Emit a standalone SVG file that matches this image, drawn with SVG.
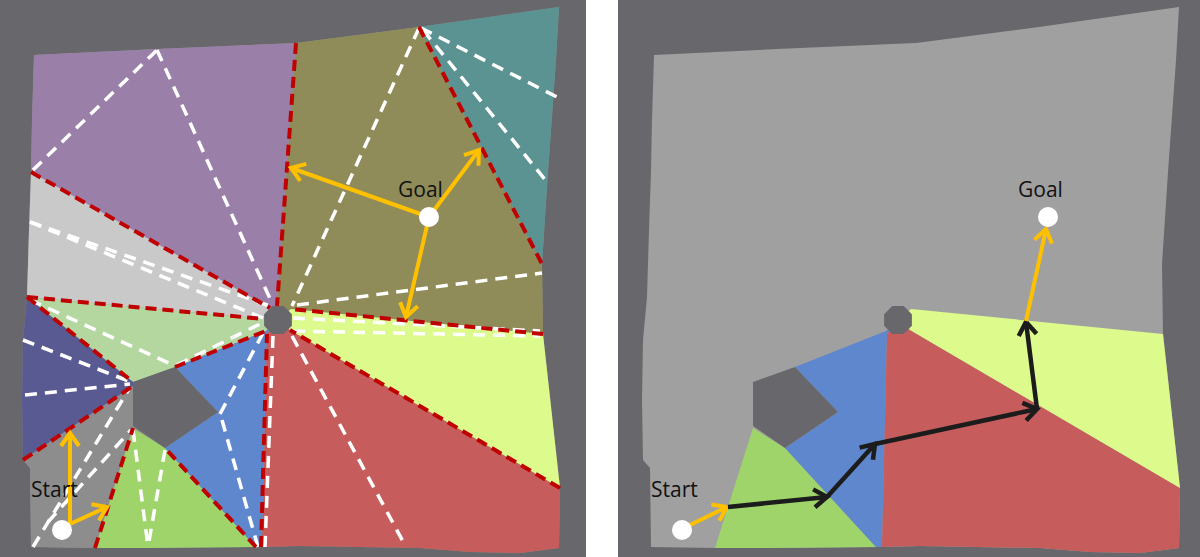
<svg xmlns="http://www.w3.org/2000/svg" xmlns:xlink="http://www.w3.org/1999/xlink" width="1200" height="557" viewBox="0 0 1200 557">
<style>
.bg{fill:#68686c}
.obs{fill:#68686c}
.free{fill:#a0a0a0}
.purple{fill:#9a80a8}.olive{fill:#8f8c5a}.teal{fill:#5b9393}.lgray{fill:#c9c9c9}
.pgreen{fill:#b4d7a0}.indigo{fill:#5a5a93}.sgray{fill:#8d8d8d}.green{fill:#9fd46b}
.blue{fill:#5f87cd}.red{fill:#c65c5c}.lime{fill:#dcfb8c}
.rd{stroke:#c00000;stroke-width:4;stroke-dasharray:11 6;fill:none}
.wd{stroke:#ffffff;stroke-width:3.5;stroke-dasharray:12 8;fill:none}
.or{stroke:#ffc000;stroke-width:4;fill:none;marker-end:url(#ao)}
.bk{stroke:#1c1c1c;stroke-width:4.5;fill:none;marker-end:url(#ab)}
.pt{fill:#ffffff}
.lbl{font-family:"Open Sans","Liberation Sans",sans-serif;font-size:21px;fill:#111111}
</style>
<defs>
<marker id="ao" markerUnits="userSpaceOnUse" markerWidth="24" markerHeight="24" viewBox="0 0 24 24" refX="19" refY="12" orient="auto">
<path d="M6,3 L19,12 L6,21" fill="none" stroke="#ffc000" stroke-width="4" stroke-linejoin="miter"/>
</marker>
<marker id="ab" markerUnits="userSpaceOnUse" markerWidth="24" markerHeight="24" viewBox="0 0 24 24" refX="19" refY="12" orient="auto">
<path d="M6,3 L19,12 L6,21" fill="none" stroke="#1c1c1c" stroke-width="4.5"/>
</marker>
<polygon id="freeArea" points="34,55 157,49 296,43 419,27 559,7 556,60 548,172 542,264 543,334 560,488 559,548 520,553 470,552 420,548 300,546 262,547 150,548 95,548 31,547 30,468 23,460 22,400 23,340 27,297 29,230 31,172 32,120"/>
<polygon id="cGreen" class="green" points="133,428 165,448 256,547 150,548 95,548"/>
<polygon id="cBlue" class="blue" points="175,367 266,331 278,320 267,334 262,547 256,547 165,448 218,412"/>
<polygon id="cRed" class="red" points="267,334 278,320 290,330 560,488 559,548 520,553 470,552 420,548 300,546 262,547"/>
<polygon id="cLime" class="lime" points="290,330 278,320 291,309 543,334 560,488"/>
<polygon id="pent" class="obs" points="133,382 175,367 218,412 165,448 133,426"/>
<polygon id="oct" class="obs" points="291.9,314.3 291.9,325.7 283.7,333.9 272.3,333.9 264.1,325.7 264.1,314.3 272.3,306.1 283.7,306.1"/>
</defs>
<rect x="0" y="0" width="1200" height="557" fill="#ffffff"/>

<g id="left-panel">
<rect class="bg" x="0" y="0" width="586" height="557"/>
<use href="#freeArea" class="sgray"/>
<polygon class="purple" points="34,55 157,49 296,43 277,306 278,320 270,308 31,172 32,120"/>
<polygon class="olive" points="296,43 419,27 542,264 543,334 291,309 278,320 277,306"/>
<polygon class="teal" points="419,27 559,7 556,60 548,172 542,264"/>
<polygon class="lgray" points="31,172 270,308 278,320 264,319 27,297 29,230"/>
<polygon class="pgreen" points="27,297 264,319 278,320 266,331 175,367 133,382"/>
<polygon class="indigo" points="27,297 133,382 133,386 23,460 22,400 23,340"/>
<polygon class="sgray" points="23,460 133,386 133,428 95,548 31,547 30,468"/>
<use href="#cGreen"/>
<use href="#cBlue"/>
<use href="#cRed"/>
<use href="#cLime"/>
<use href="#pent"/>
<use href="#oct"/>
</g>

<g id="left-visibility-edges">
<line class="wd" x1="33" y1="170" x2="157" y2="50"/>
<line class="wd" x1="157" y1="50" x2="272" y2="303"/>
<line class="wd" x1="30" y1="222" x2="270" y2="306"/>
<line class="wd" x1="30" y1="222" x2="263" y2="318"/>
<line class="wd" x1="30" y1="300" x2="173" y2="365"/>
<line class="wd" x1="177" y1="365" x2="264" y2="322"/>
<line class="wd" x1="23" y1="340" x2="131" y2="382"/>
<line class="wd" x1="25" y1="395" x2="130" y2="384"/>
<line class="wd" x1="33" y1="547" x2="129" y2="389"/>
<line class="wd" x1="48" y1="522" x2="131" y2="430"/>
<line class="wd" x1="133" y1="430" x2="148" y2="547"/>
<line class="wd" x1="165" y1="450" x2="148" y2="547"/>
<line class="wd" x1="220" y1="414" x2="263" y2="333"/>
<line class="wd" x1="222" y1="420" x2="258" y2="547"/>
<line class="wd" x1="273" y1="336" x2="265" y2="547"/>
<line class="wd" x1="292" y1="336" x2="406" y2="547"/>
<line class="wd" x1="293" y1="318" x2="540" y2="331"/>
<line class="wd" x1="293" y1="331" x2="540" y2="336"/>
<line class="wd" x1="297" y1="305" x2="542" y2="273"/>
<line class="wd" x1="419" y1="28" x2="292" y2="306"/>
<line class="wd" x1="421" y1="28" x2="557" y2="97"/>
<line class="wd" x1="423" y1="30" x2="547" y2="182"/>
</g>

<g id="left-cell-borders">
<line class="rd" x1="296" y1="43" x2="277" y2="306"/>
<line class="rd" x1="31" y1="172" x2="270" y2="308"/>
<line class="rd" x1="27" y1="297" x2="264" y2="319"/>
<line class="rd" x1="175" y1="367" x2="266" y2="331"/>
<line class="rd" x1="261" y1="547" x2="267" y2="334"/>
<line class="rd" x1="560" y1="488" x2="290" y2="330"/>
<line class="rd" x1="543" y1="334" x2="291" y2="309"/>
<line class="rd" x1="419" y1="27" x2="542" y2="264"/>
<line class="rd" x1="27" y1="297" x2="133" y2="382"/>
<line class="rd" x1="23" y1="460" x2="133" y2="386"/>
<line class="rd" x1="95" y1="548" x2="133" y2="428"/>
<line class="rd" x1="256" y1="547" x2="165" y2="448"/>
</g>

<g id="left-arrows">
<line class="or" x1="429" y1="217" x2="291" y2="168"/>
<line class="or" x1="429" y1="217" x2="479" y2="150"/>
<line class="or" x1="429" y1="217" x2="406" y2="317"/>
<line class="or" x1="70" y1="524" x2="70" y2="433"/>
<line class="or" x1="70" y1="524" x2="107" y2="507"/>
</g>

<g id="left-goal">
<circle class="pt" cx="429" cy="217" r="10"/>
<text class="lbl" x="398" y="197">Goal</text>
</g>
<g id="left-start">
<circle class="pt" cx="62" cy="530" r="10"/>
<text class="lbl" x="31" y="497">Start</text>
</g>

<g id="right-panel">
<rect class="bg" x="618" y="0" width="582" height="557"/>
<g transform="translate(620,0)">
<use href="#freeArea" class="free"/>
<use href="#cGreen"/>
<use href="#cBlue"/>
<use href="#cRed"/>
<use href="#cLime"/>
<use href="#pent"/>
<use href="#oct"/>
</g>
</g>

<g id="right-path">
<line class="or" x1="690" y1="525" x2="727" y2="507"/>
<line class="bk" x1="728" y1="507" x2="827" y2="497"/>
<line class="bk" x1="827" y1="497" x2="875" y2="444"/>
<line class="bk" x1="875" y1="444" x2="1037" y2="409"/>
<line class="bk" x1="1037" y1="409" x2="1026" y2="322"/>
<line class="or" x1="1026" y1="321" x2="1046" y2="229"/>
</g>

<g id="right-goal">
<circle class="pt" cx="1048" cy="217" r="10"/>
<text class="lbl" x="1018" y="197">Goal</text>
</g>
<g id="right-start">
<circle class="pt" cx="682" cy="530" r="10"/>
<text class="lbl" x="651" y="497">Start</text>
</g>
</svg>
